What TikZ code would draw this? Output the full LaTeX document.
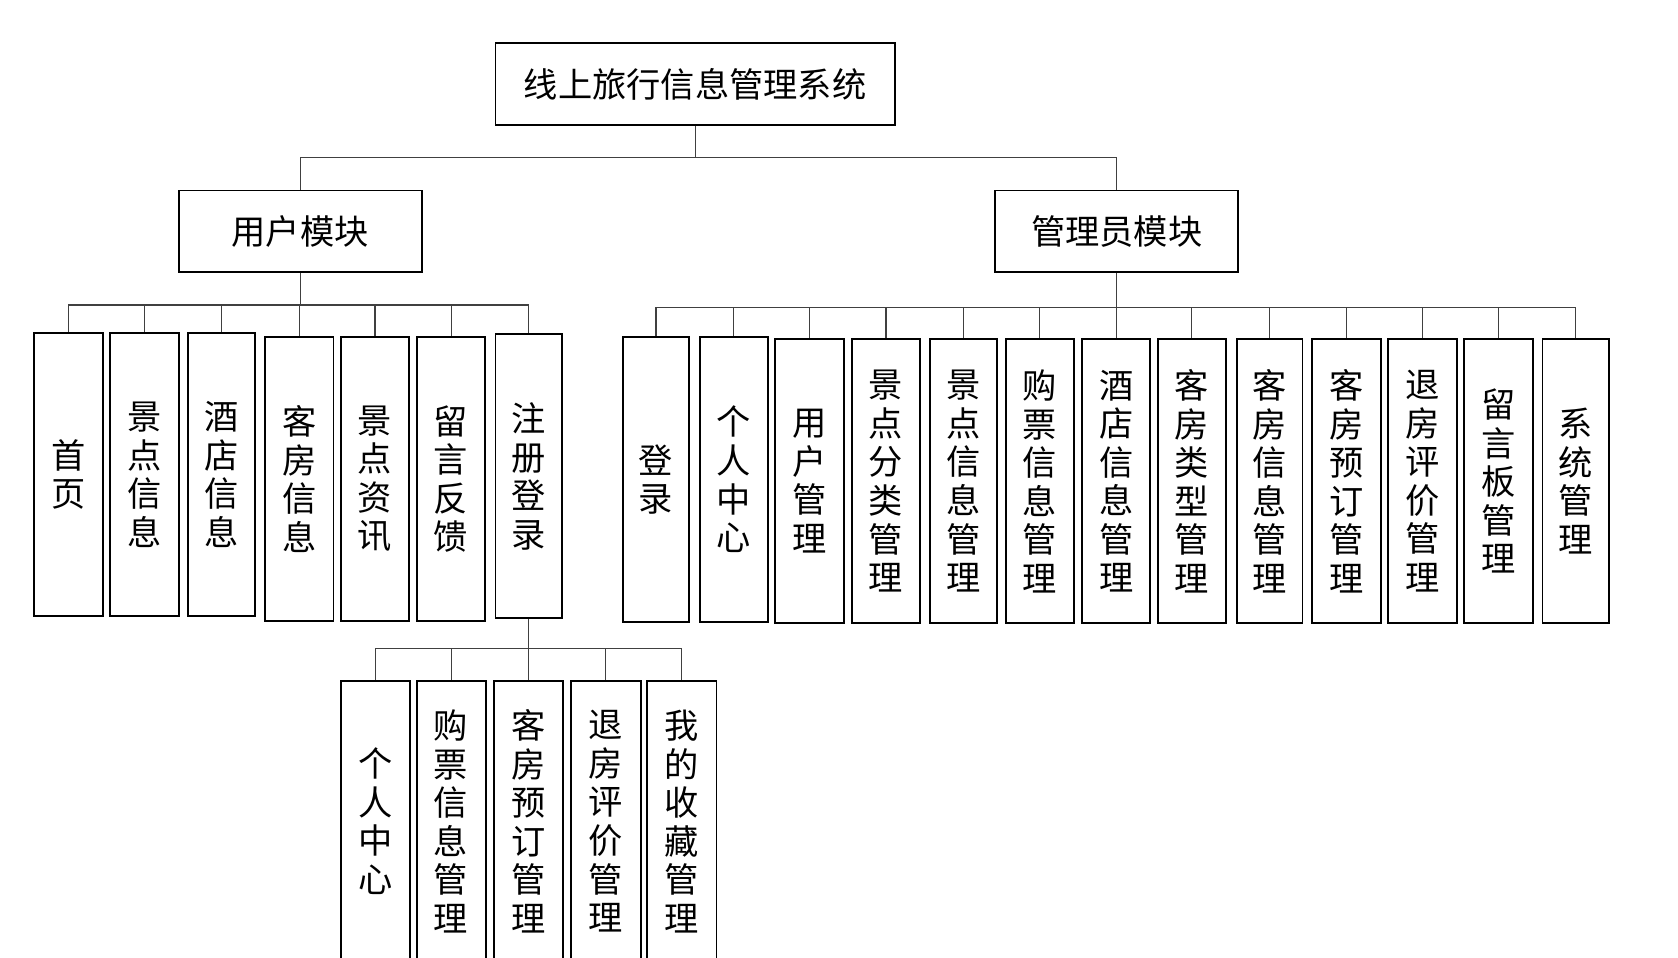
\documentclass[tikz,border=0pt]{standalone}
\usepackage{fontspec}
\setmainfont{Noto Sans CJK SC}
\tikzset{
  bx/.style={draw=black, line width=1.8pt, inner sep=0pt, align=center, font=\fontsize{32}{36}\selectfont},
  vb/.style={bx, minimum width=64pt, minimum height=265pt},
  cn/.style={draw=black!75, line width=1pt}
}
\begin{document}
\begin{tikzpicture}[x=1pt,y=-1pt]
\useasboundingbox (0,0) rectangle (1568,895);
\fill[white] (0,0) rectangle (1568,895);
\clip (0,0) rectangle (1568,895);
% top levels
\node[bx, minimum width=373pt, minimum height=77pt] (title) at (649.5,78.5) {线上旅行信息管理系统};
\node[bx, minimum width=227pt, minimum height=76pt] (um) at (280.5,216) {用户模块};
\node[bx, minimum width=227pt, minimum height=76pt] (am) at (1043.5,216) {管理员模块};
% user children
\node[vb, minimum width=65pt] (u1) at (64,443.5) {首\\页};
\node[vb] (u2) at (135,443.5) {景\\点\\信\\息};
\node[vb, minimum width=62.5pt] (u3) at (207.2,443.5) {酒\\店\\信\\息};
\node[vb] (u4) at (279.6,447.5) {客\\房\\信\\息};
\node[vb] (u5) at (350.4,447.5) {景\\点\\资\\讯};
\node[vb] (u6) at (421.5,447.5) {留\\言\\反\\馈};
\node[vb, minimum width=62pt] (u7) at (494,445) {注\\册\\登\\录};
% admin children
\node[vb, minimum width=62.3pt, minimum height=266pt] (a1) at (613,448) {登\\录};
\node[vb, minimum width=63.5pt, minimum height=266pt] (a2) at (685.5,448) {个\\人\\中\\心};
\node[vb] (a3) at (756.5,449.7) {用\\户\\管\\理};
\node[vb] (a4) at (827.9,449.7) {景\\点\\分\\类\\管\\理};
\node[vb, minimum width=62.3pt] (a5) at (900.1,449.7) {景\\点\\信\\息\\管\\理};
\node[vb] (a6) at (971.7,449.7) {购\\票\\信\\息\\管\\理};
\node[vb] (a7) at (1043,449.7) {酒\\店\\信\\息\\管\\理};
\node[vb] (a8) at (1113.7,449.7) {客\\房\\类\\型\\管\\理};
\node[vb, minimum width=61.6pt] (a9) at (1186.3,449.7) {客\\房\\信\\息\\管\\理};
\node[vb] (a10) at (1258.2,449.7) {客\\房\\预\\订\\管\\理};
\node[vb] (a11) at (1329.2,449.7) {退\\房\\评\\价\\管\\理};
\node[vb] (a12) at (1400.2,449.7) {留\\言\\板\\管\\理};
\node[vb, minimum width=62.3pt] (a13) at (1472.5,449.7) {系\\统\\管\\理};
% sub children of 注册登录
\node[vb, minimum width=64.8pt, minimum height=263pt] (s1) at (350.7,767.5) {个\\人\\中\\心};
\node[vb, minimum width=64.5pt, minimum height=263pt] (s2) at (421.5,767.5) {购\\票\\信\\息\\管\\理};
\node[vb, minimum width=64.8pt, minimum height=263pt] (s3) at (494,767.5) {客\\房\\预\\订\\管\\理};
\node[vb, minimum width=65.3pt, minimum height=263pt] (s4) at (566.1,767.5) {退\\房\\评\\价\\管\\理};
\node[vb, minimum width=64.7pt, minimum height=263pt] (s5) at (637.2,767.5) {我\\的\\收\\藏\\管\\理};
% bus levels
\coordinate (tb) at (0,147);
\coordinate (ub) at (0,285);
\coordinate (ab) at (0,287);
\coordinate (sb) at (0,606);
% connectors
\draw[cn] (title.south) -- (title.south |- tb) -| (um.north);
\draw[cn] (title.south |- tb) -| (am.north);
\foreach \n in {u1,u2,u3,u4,u5,u6,u7}{
  \draw[cn] (um.south) -- (um.south |- ub) -| (\n.north);
}
\foreach \n in {a1,a2,a3,a4,a5,a6,a7,a8,a9,a10,a11,a12,a13}{
  \draw[cn] (am.south) -- (am.south |- ab) -| (\n.north);
}
\foreach \n in {s1,s2,s3,s4,s5}{
  \draw[cn] (u7.south) -- (u7.south |- sb) -| (\n.north);
}
\end{tikzpicture}
\end{document}
